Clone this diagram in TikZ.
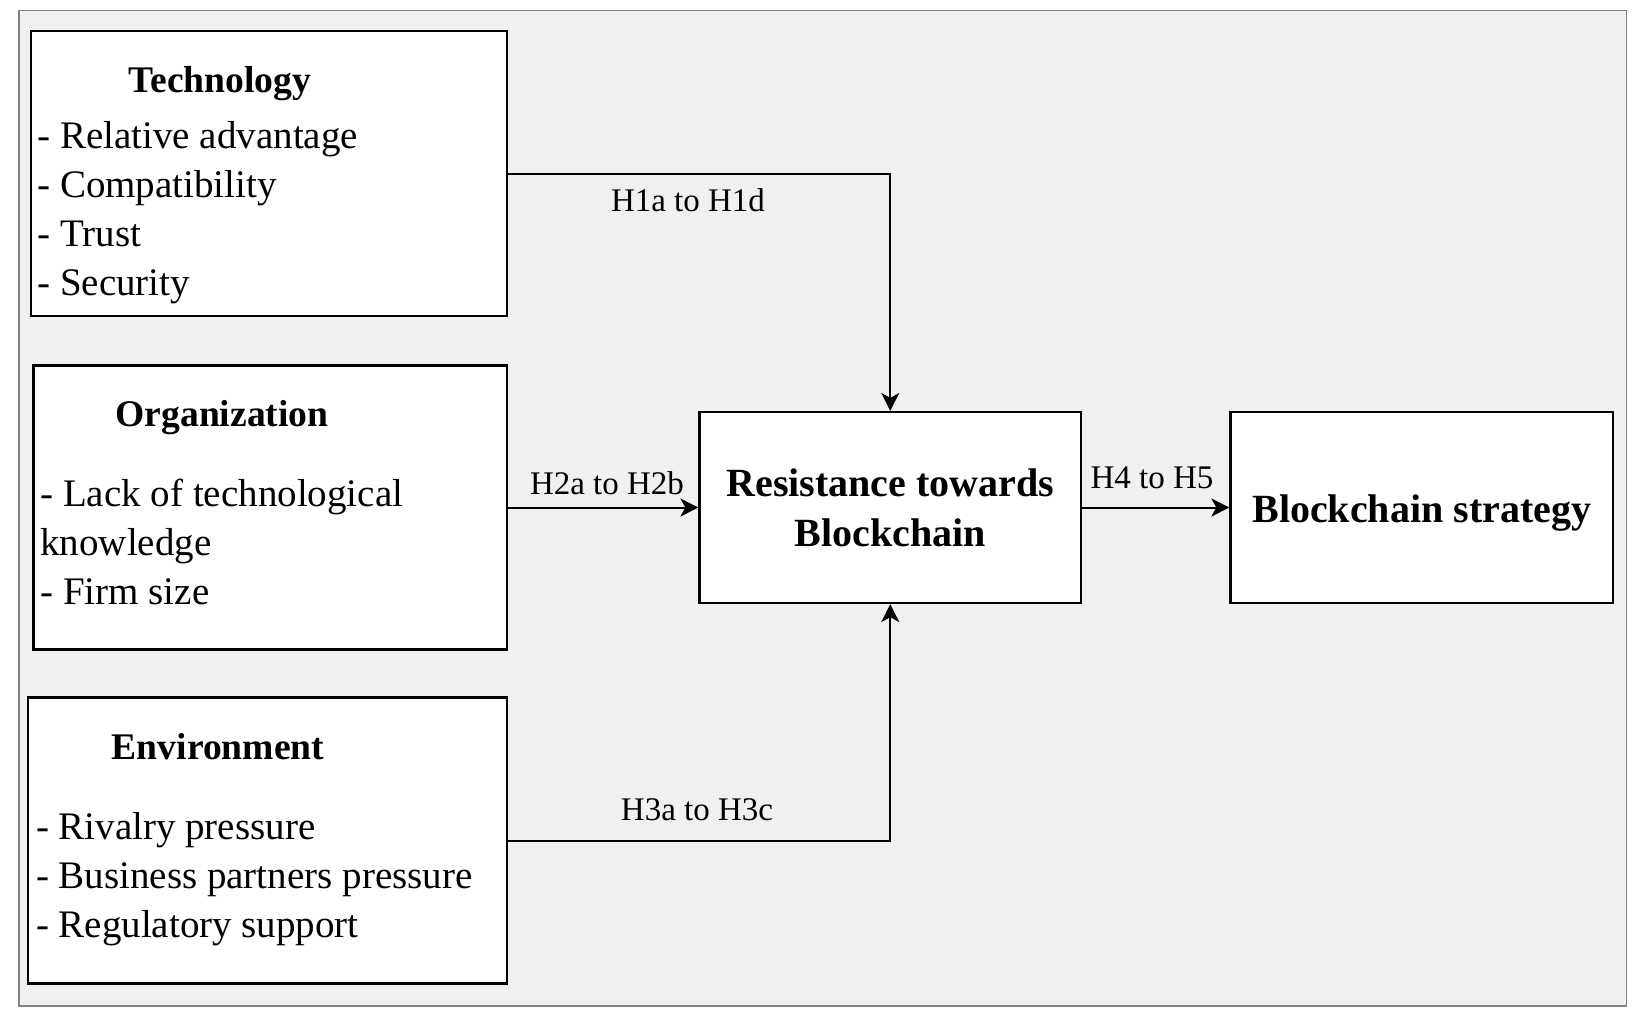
\documentclass[tikz,border=0pt]{standalone}
\usepackage{fontspec}
\setmainfont{Liberation Serif}
\usetikzlibrary{arrows.meta}
\definecolor{canvasgray}{RGB}{240,240,240}
\definecolor{framegray}{RGB}{130,130,130}
\begin{document}
\begin{tikzpicture}[x=0.5pt,y=-0.5pt]
	\tikzstyle{box}=[draw=black,fill=white,rectangle,line width=1.1pt,inner sep=0pt,align=center,font=\fontsize{20}{25}\selectfont\bfseries]
	\tikzstyle{title}=[inner sep=0pt,anchor=base,font=\fontsize{18.8}{22}\selectfont\bfseries]
	\tikzstyle{item}=[inner sep=0pt,anchor=base west,align=left,font=\fontsize{19.5}{24.5}\selectfont]
	\tikzstyle{hyp}=[inner sep=0pt,anchor=base,font=\fontsize{16.5}{20}\selectfont]
	\tikzstyle{flow}=[draw=black,line width=1pt,-{Stealth[length=9pt,width=9pt,inset=2.5pt]}]
	\useasboundingbox (0,0) rectangle (1642,1018);
	\draw[framegray,fill=canvasgray,line width=0.8pt] (19,10.5) rectangle (1626.5,1006);
	% factor boxes
	\node[box,minimum width=238pt,minimum height=142.5pt] (tech) at (269,173.5) {};
	\node[box,minimum width=236.75pt,minimum height=142pt] (org) at (270.25,507.5) {};
	\node[box,minimum width=239.5pt,minimum height=143pt] (env) at (267.5,840.5) {};
	\node[title] (techtitle) at (220,92) {Technology};
	\node[item] (techlist) at (37,295) {- Relative advantage\\- Compatibility\\- Trust\\- Security};
	\node[title] (orgtitle) at (222,426) {Organization};
	\node[item] (orglist) at (40,604) {- Lack of technological\\knowledge\\- Firm size};
	\node[title] (envtitle) at (218,759) {Environment};
	\node[item] (envlist) at (35.6,937) {- Rivalry pressure\\- Business partners pressure\\- Regulatory support};
	% outcome boxes
	\node[box,minimum width=190.75pt,minimum height=95.5pt] (res) at (890.25,507.5) {Resistance towards\\Blockchain};
	\node[box,minimum width=191.25pt,minimum height=95.5pt,text height=17pt,text depth=2.2pt] (strat) at (1421.75,507.5) {Blockchain strategy};
	% hypotheses
	\draw[flow] (tech.east) -| (res.north);
	\draw[flow] (org.east) -- (res.west);
	\draw[flow] (env.east) -| (res.south);
	\draw[flow] (res.east) -- (strat.west);
	\node[hyp] (h1) at (688,211) {H1a to H1d};
	\node[hyp] (h2) at (607,494) {H2a to H2b};
	\node[hyp] (h3) at (697,820) {H3a to H3c};
	\node[hyp] (h4) at (1152,488) {H4 to H5};
\end{tikzpicture}
\end{document}
